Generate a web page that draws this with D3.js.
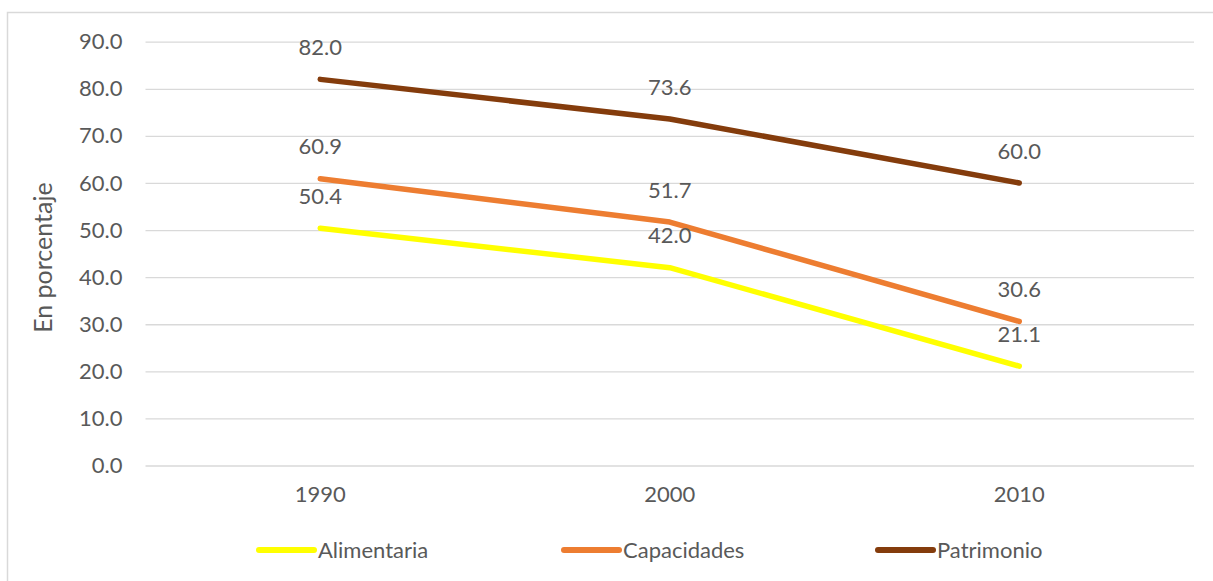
<!DOCTYPE html>
<html>
<head>
<meta charset="utf-8">
<script src="https://cdn.jsdelivr.net/npm/d3@7"></script>
<style>
  html, body { margin: 0; padding: 0; background: #fff; }
  svg { display: block; }
  text { font-family: Lato, "Open Sans", sans-serif; fill: #595959; }
</style>
</head>
<body>
<svg id="chart" width="1213" height="581"></svg>
<script>
// Poverty rates by line type (percent)
const years = ["1990", "2000", "2010"];
const alimentaria = [50.4, 42.0, 21.1];
const capacidades = [60.9, 51.7, 30.6];
const patrimonio = [82.0, 73.6, 60.0];
const yTicks = [0, 10, 20, 30, 40, 50, 60, 70, 80, 90];
const seriesNames = ["Alimentaria", "Capacidades", "Patrimonio"];
const seriesColors = ["#FFFF00", "#ED7D31", "#843C0C"];
const yTitle = "En porcentaje";

const series = [
  { name: seriesNames[0], values: alimentaria, color: seriesColors[0] },
  { name: seriesNames[1], values: capacidades, color: seriesColors[1] },
  { name: seriesNames[2], values: patrimonio, color: seriesColors[2] }
];

const svg = d3.select("#chart");
const W = 1213, H = 581;
const plot = { left: 145.5, right: 1194, top: 41.7, bottom: 465.5 };
const fs = 22;

// outer chart border
svg.append("rect")
  .attr("x", 7.5).attr("y", 12.5)
  .attr("width", W + 10).attr("height", H + 10)
  .attr("fill", "none").attr("stroke", "#D9D9D9").attr("stroke-width", 1.5);

const x = d3.scaleBand().domain(years).range([plot.left, plot.right]);
const y = d3.scaleLinear().domain([0, 90]).range([plot.bottom, plot.top]);

// gridlines + y axis labels
const yAxis = d3.axisLeft(y)
  .tickValues(yTicks)
  .tickSize(-(plot.right - plot.left))
  .tickPadding(23)
  .tickFormat(d3.format(".1f"));
const gy = svg.append("g").attr("transform", `translate(${plot.left},0)`).call(yAxis);
gy.select(".domain").remove();
gy.selectAll(".tick line").attr("stroke", "#D9D9D9").attr("stroke-width", 1.3);
gy.selectAll(".tick text").attr("font-size", fs).style("fill", "#595959")
  .attr("font-family", "Lato, 'Open Sans', sans-serif");

// x axis labels
const xAxis = d3.axisBottom(x).tickSize(0).tickPadding(21);
const gx = svg.append("g").attr("transform", `translate(0,${plot.bottom})`).call(xAxis);
gx.select(".domain").remove();
gx.selectAll(".tick text").attr("font-size", fs).style("fill", "#595959")
  .attr("font-family", "Lato, 'Open Sans', sans-serif");

// y title
svg.append("text")
  .attr("transform", `translate(52,${(plot.top + plot.bottom) / 2 + 4}) rotate(-90)`)
  .attr("text-anchor", "middle")
  .attr("font-size", 25)
  .text(yTitle);

// lines
const line = d3.line()
  .x((d, i) => x(years[i]) + x.bandwidth() / 2)
  .y(d => y(d));

svg.append("g").selectAll("path")
  .data(series)
  .join("path")
  .attr("d", d => line(d.values))
  .attr("fill", "none")
  .attr("stroke", d => d.color)
  .attr("stroke-width", 5.5)
  .attr("stroke-linecap", "round")
  .attr("stroke-linejoin", "round");

// value labels
const labels = svg.append("g");
series.forEach(s => {
  labels.selectAll(null)
    .data(s.values)
    .join("text")
    .attr("x", (d, i) => x(years[i]) + x.bandwidth() / 2)
    .attr("y", d => y(d) - 32)
    .attr("dy", "0.35em")
    .attr("text-anchor", "middle")
    .attr("font-size", fs)
    .text(d => d3.format(".1f")(d));
});

// legend
const legendX = [259, 564, 878];
const legendY = 550;
const lg = svg.append("g");
series.forEach((s, i) => {
  const g = lg.append("g").attr("transform", `translate(${legendX[i]},${legendY})`);
  g.append("line")
    .attr("x1", 0).attr("x2", 55).attr("y1", 0).attr("y2", 0)
    .attr("stroke", s.color).attr("stroke-width", 6).attr("stroke-linecap", "round");
  g.append("text")
    .attr("x", 59).attr("y", 0).attr("dy", "0.35em")
    .attr("font-size", fs)
    .text(s.name);
});
</script>
</body>
</html>
